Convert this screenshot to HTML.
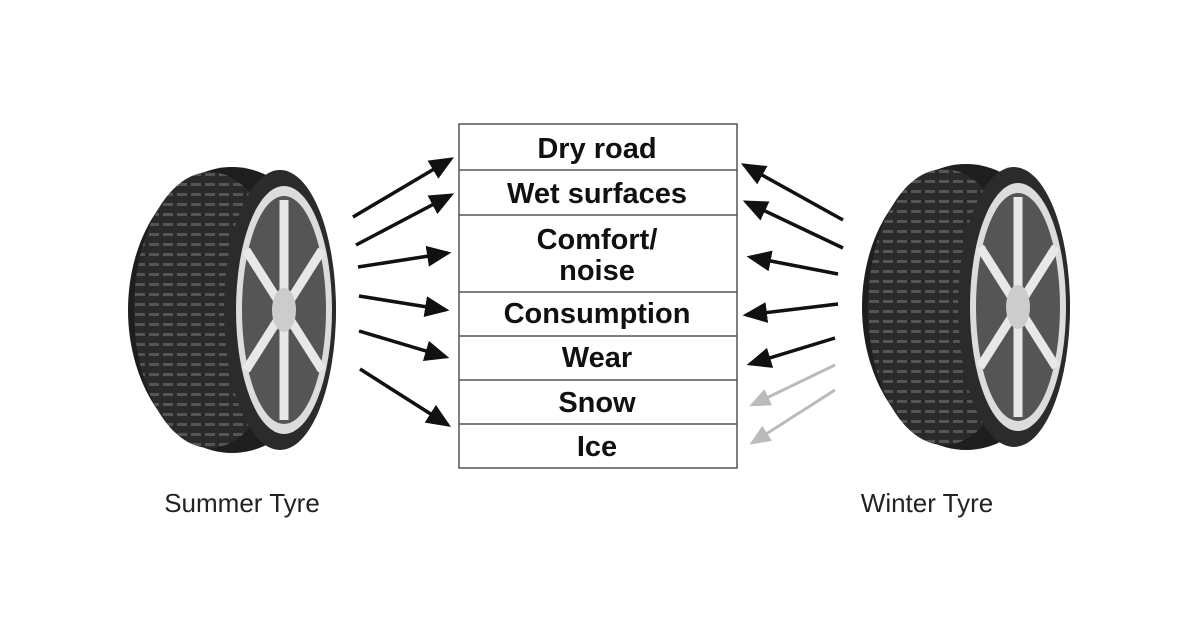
<!DOCTYPE html>
<html><head><style>
html,body{margin:0;padding:0;background:#fff;}
body{width:1200px;height:630px;overflow:hidden;position:relative;font-family:"Liberation Sans",sans-serif;}
</style></head><body>
<svg width="1200" height="630" viewBox="0 0 1200 630" xmlns="http://www.w3.org/2000/svg">
<defs>
<marker id="ah" markerWidth="8" markerHeight="8" refX="6" refY="4" orient="auto" markerUnits="strokeWidth"><path d="M0,1 L7,4 L0,7 z" fill="#111"/></marker>
<marker id="ahg" markerWidth="8" markerHeight="8" refX="6" refY="4" orient="auto" markerUnits="strokeWidth"><path d="M0,1 L7,4 L0,7 z" fill="#bbb"/></marker>
<pattern id="tread" width="14" height="10" patternUnits="userSpaceOnUse"><rect width="14" height="10" fill="#2a2a2a"/><rect x="1" y="3" width="10" height="3" fill="#555"/></pattern>
<g id="tyre">
  <ellipse cx="0" cy="0" rx="104" ry="143" fill="#1e1e1e"/>
  <ellipse cx="-22" cy="0" rx="76" ry="138" fill="url(#tread)"/>
  <ellipse cx="48" cy="0" rx="56" ry="140" fill="#2b2b2b"/>
  <ellipse cx="52" cy="0" rx="48" ry="124" fill="#dcdcdc"/>
  <ellipse cx="52" cy="0" rx="42" ry="114" fill="#555"/>
  <g stroke="#e8e8e8" stroke-width="9">
    <line x1="52" y1="0" x2="52" y2="-110"/><line x1="52" y1="0" x2="90" y2="-60"/><line x1="52" y1="0" x2="90" y2="60"/>
    <line x1="52" y1="0" x2="52" y2="110"/><line x1="52" y1="0" x2="14" y2="60"/><line x1="52" y1="0" x2="14" y2="-60"/>
  </g>
  <ellipse cx="52" cy="0" rx="12" ry="22" fill="#ccc"/>
</g>
</defs>
<use href="#tyre" x="232" y="310"/>
<use href="#tyre" x="966" y="307"/>
<g fill="#fff" stroke="#555" stroke-width="1.5">
<rect x="459" y="124" width="278" height="344"/>
</g>
<g stroke="#555" stroke-width="1.5">
<line x1="459" y1="170" x2="737" y2="170"/><line x1="459" y1="215" x2="737" y2="215"/>
<line x1="459" y1="292" x2="737" y2="292"/><line x1="459" y1="336" x2="737" y2="336"/>
<line x1="459" y1="380" x2="737" y2="380"/><line x1="459" y1="424" x2="737" y2="424"/>
</g>
<g font-family="Liberation Sans, sans-serif" font-weight="bold" font-size="29" fill="#111" text-anchor="middle">
<text x="597" y="158">Dry road</text>
<text x="597" y="203">Wet surfaces</text>
<text x="597" y="249">Comfort/</text>
<text x="597" y="280">noise</text>
<text x="597" y="323">Consumption</text>
<text x="597" y="367">Wear</text>
<text x="597" y="412">Snow</text>
<text x="597" y="456">Ice</text>
</g>
<g stroke="#111" stroke-width="3.5" marker-end="url(#ah)">
<line x1="353" y1="217" x2="451" y2="159"/>
<line x1="356" y1="245" x2="451" y2="195"/>
<line x1="358" y1="267" x2="448" y2="253"/>
<line x1="359" y1="296" x2="446" y2="310"/>
<line x1="359" y1="331" x2="446" y2="357"/>
<line x1="360" y1="369" x2="448" y2="425"/>
<line x1="843" y1="220" x2="744" y2="165"/>
<line x1="843" y1="248" x2="746" y2="202"/>
<line x1="838" y1="274" x2="750" y2="257"/>
<line x1="838" y1="304" x2="746" y2="315"/>
<line x1="835" y1="338" x2="750" y2="364"/>
</g>
<g stroke="#bbb" stroke-width="3" marker-end="url(#ahg)">
<line x1="835" y1="365" x2="752" y2="405"/>
<line x1="835" y1="390" x2="752" y2="443"/>
</g>
<g font-family="Liberation Sans, sans-serif" font-size="26" fill="#222" text-anchor="middle">
<text x="242" y="512">Summer Tyre</text>
<text x="927" y="512">Winter Tyre</text>
</g>
</svg>
</body></html>
